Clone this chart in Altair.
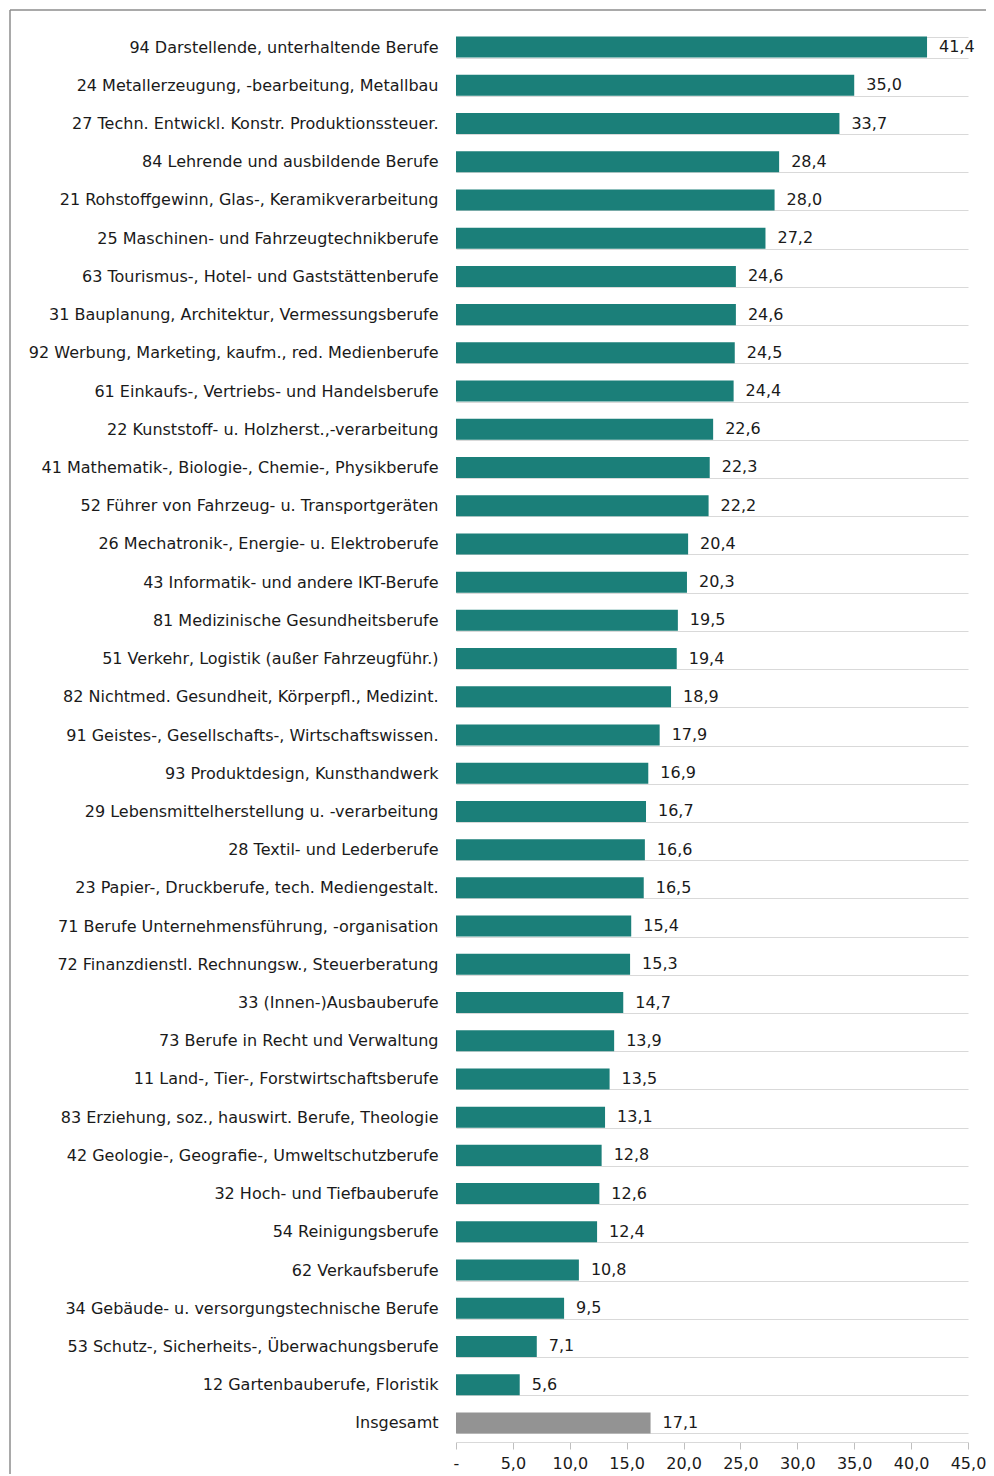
import altair as alt
import pandas as pd

categories = [
    "94 Darstellende, unterhaltende Berufe",
    "24 Metallerzeugung, -bearbeitung, Metallbau",
    "27 Techn. Entwickl. Konstr. Produktionssteuer.",
    "84 Lehrende und ausbildende Berufe",
    "21 Rohstoffgewinn, Glas-, Keramikverarbeitung",
    "25 Maschinen- und Fahrzeugtechnikberufe",
    "63 Tourismus-, Hotel- und Gaststättenberufe",
    "31 Bauplanung, Architektur, Vermessungsberufe",
    "92 Werbung, Marketing, kaufm., red. Medienberufe",
    "61 Einkaufs-, Vertriebs- und Handelsberufe",
    "22 Kunststoff- u. Holzherst.,-verarbeitung",
    "41 Mathematik-, Biologie-, Chemie-, Physikberufe",
    "52 Führer von Fahrzeug- u. Transportgeräten",
    "26 Mechatronik-, Energie- u. Elektroberufe",
    "43 Informatik- und andere IKT-Berufe",
    "81 Medizinische Gesundheitsberufe",
    "51 Verkehr, Logistik (außer Fahrzeugführ.)",
    "82 Nichtmed. Gesundheit, Körperpfl., Medizint.",
    "91 Geistes-, Gesellschafts-, Wirtschaftswissen.",
    "93 Produktdesign, Kunsthandwerk",
    "29 Lebensmittelherstellung u. -verarbeitung",
    "28 Textil- und Lederberufe",
    "23 Papier-, Druckberufe, tech. Mediengestalt.",
    "71 Berufe Unternehmensführung, -organisation",
    "72 Finanzdienstl. Rechnungsw., Steuerberatung",
    "33 (Innen-)Ausbauberufe",
    "73 Berufe in Recht und Verwaltung",
    "11 Land-, Tier-, Forstwirtschaftsberufe",
    "83 Erziehung, soz., hauswirt. Berufe, Theologie",
    "42 Geologie-, Geografie-, Umweltschutzberufe",
    "32 Hoch- und Tiefbauberufe",
    "54 Reinigungsberufe",
    "62 Verkaufsberufe",
    "34 Gebäude- u. versorgungstechnische Berufe",
    "53 Schutz-, Sicherheits-, Überwachungsberufe",
    "12 Gartenbauberufe, Floristik",
    "Insgesamt",
]
values = [41.4, 35.0, 33.7, 28.4, 28.0, 27.2, 24.6, 24.6, 24.5, 24.4,
          22.6, 22.3, 22.2, 20.4, 20.3, 19.5, 19.4, 18.9, 17.9, 16.9,
          16.7, 16.6, 16.5, 15.4, 15.3, 14.7, 13.9, 13.5, 13.1, 12.8,
          12.6, 12.4, 10.8, 9.5, 7.1, 5.6, 17.1]
groups = ["Beruf"] * 36 + ["Gesamt"]

df = pd.DataFrame({
    "cat": categories,
    "val": values,
    "grp": groups,
    "label": [f"{v:.1f}".replace(".", ",") for v in values],
})

FONT = "DejaVu Sans"
FS = 16
W, H = 512, 1414

y_enc = alt.Y("cat:N", sort=categories, title=None,
              scale=alt.Scale(paddingInner=0.45, paddingOuter=0.225),
              axis=alt.Axis(grid=True, gridColor="#d9d9d9", tickBand="extent",
                            ticks=False, domain=False, labelPadding=18,
                            labelFontSize=FS, labelColor="#1a1a1a",
                            labelFont=FONT, labelLimit=440))
x_enc = alt.X("val:Q", title=None,
              scale=alt.Scale(domain=[0, 45], nice=False),
              axis=alt.Axis(values=[0, 5, 10, 15, 20, 25, 30, 35, 40, 45],
                            grid=False, domainColor="#d9d9d9", tickColor="#bfbfbf",
                            tickSize=7, labelPadding=6, labelFontSize=FS,
                            labelFlush=False, labelOverlap=False,
                            labelColor="#1a1a1a", labelFont=FONT,
                            labelExpr="datum.value == 0 ? '-' : replace(format(datum.value, '.1f'), '.', ',')"))

bars = alt.Chart(df).mark_bar().encode(
    x=x_enc, y=y_enc,
    color=alt.Color("grp:N", scale=alt.Scale(domain=["Beruf", "Gesamt"],
                                               range=["#1b7f79", "#939393"]),
                    legend=None),
)
texts = alt.Chart(df).mark_text(align="left", baseline="middle", dx=12,
                                fontSize=FS, font=FONT, color="#1a1a1a").encode(
    x="val:Q", y=alt.Y("cat:N", sort=categories), text="label:N")

frame = pd.DataFrame({"k": [0]})
top_line = alt.Chart(frame).mark_rule(color="#8c8c8c", strokeWidth=1.5).encode(
    x=alt.value(-446), x2=alt.value(700), y=alt.value(-18))
left_line = alt.Chart(frame).mark_rule(color="#8c8c8c", strokeWidth=1.5).encode(
    x=alt.value(-446), y=alt.value(-18), y2=alt.value(1600))

chart = alt.layer(bars, texts, top_line, left_line).properties(
    width=W, height=H,
    background="white",
    autosize=alt.AutoSizeParams(type="none"),
    padding={"left": 448, "top": 20, "right": 18, "bottom": 32},
).configure_view(stroke=None)

chart.save("out.html", embed_options={"renderer": "svg", "actions": False})
